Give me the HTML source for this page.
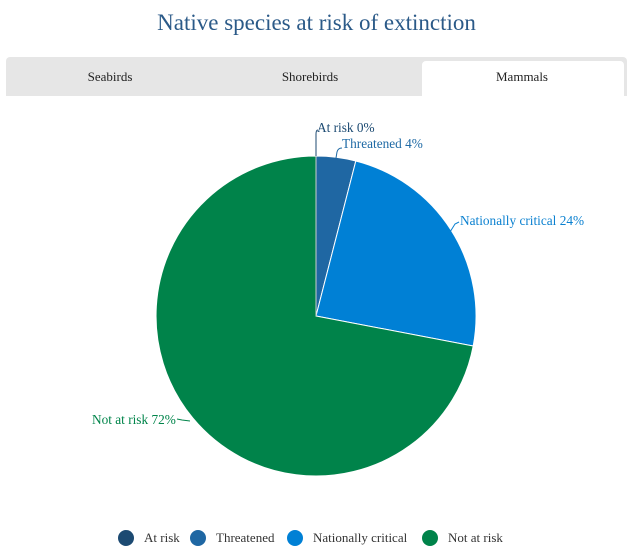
<!DOCTYPE html>
<html><head><style>
body{margin:0;width:633px;height:552px;background:#fff;font-family:"Liberation Serif",serif;position:relative;overflow:hidden}
.title{position:absolute;top:10px;left:0;width:633px;text-align:center;font-size:23px;color:#2b5a88}
.bar{position:absolute;left:6px;top:57px;width:621px;height:39px;background:#e6e6e6;border-radius:4px 4px 0 0}
.tab{position:absolute;top:69px;font-size:13px;color:#222;text-align:center;width:200px}
.act{position:absolute;left:422px;top:61px;width:202px;height:35px;background:#fff;border-radius:4px 4px 0 0}
</style></head><body>
<div class="title">Native species at risk of extinction</div>
<div class="bar"></div><div class="act"></div>
<div class="tab" style="left:10px">Seabirds</div>
<div class="tab" style="left:210px">Shorebirds</div>
<div class="tab" style="left:422px">Mammals</div>
<svg width="633" height="552" style="position:absolute;left:0;top:0" font-family="Liberation Serif, serif" font-size="13.3">
<path d="M316,316 L316,156 A160,160 0 0 1 355.8,161 Z" fill="#1f67a3" stroke="#fff" stroke-width="1"/>
<path d="M316,316 L355.8,161 A160,160 0 0 1 473.2,346 Z" fill="#0080d5" stroke="#fff" stroke-width="1"/>
<path d="M316,316 L473.2,346 A160,160 0 1 1 316,156 Z" fill="#00834a" stroke="#fff" stroke-width="1"/>
<line x1="316" y1="156" x2="316" y2="316" stroke="#ccc" stroke-width="1"/>
<path d="M316,156 L316,134 Q316,130 318,130" fill="none" stroke="#1c4a72"/>
<text x="317" y="132" fill="#1c4a72">At risk 0%</text>
<path d="M336,158 L337,152 Q338,148 342,148" fill="none" stroke="#1f6aa5"/>
<text x="342" y="148" fill="#1f6aa5">Threatened 4%</text>
<path d="M450,232 L455,224 L459,222" fill="none" stroke="#0a80d0"/>
<text x="460" y="225" fill="#0a80d0">Nationally critical 24%</text>
<path d="M190,421 L182,420 L177,419" fill="none" stroke="#00844a"/>
<text x="92" y="424" fill="#00844a">Not at risk 72%</text>
<g font-size="13" fill="#333">
<circle cx="126" cy="538" r="8" fill="#1c4a72"/><text x="144" y="542">At risk</text>
<circle cx="198" cy="538" r="8" fill="#1f67a3"/><text x="216" y="542">Threatened</text>
<circle cx="295" cy="538" r="8" fill="#0080d5"/><text x="313" y="542">Nationally critical</text>
<circle cx="430" cy="538" r="8" fill="#00834a"/><text x="448" y="542">Not at risk</text>
</g>
</svg>
</body></html>
